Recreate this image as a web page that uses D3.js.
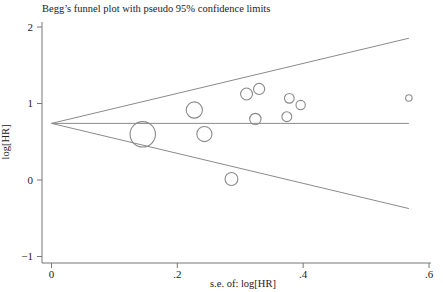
<!DOCTYPE html>
<html>
<head>
<meta charset="utf-8">
<script src="https://cdn.jsdelivr.net/npm/d3@7"></script>
<style>
  body { margin: 0; background: #fff; }
  text { font-family: "Liberation Serif", "DejaVu Serif", serif; fill: #222; }
</style>
</head>
<body>
<svg id="chart"></svg>
<script>
// study estimates
const studySE = [0.145, 0.227, 0.243, 0.286, 0.310, 0.330, 0.324, 0.378, 0.374, 0.396, 0.568];
const studyLogHR = [0.597, 0.915, 0.601, 0.013, 1.124, 1.19, 0.797, 1.068, 0.827, 0.98, 1.072];
const pooledLogHR = 0.74;
const xTicks = [0, 0.2, 0.4, 0.6];
const xTickLabels = ['0', '.2', '.4', '.6'];
const yTicks = [-1, 0, 1, 2];

const width = 443, height = 292;
const svg = d3.select('#chart').attr('width', width).attr('height', height);

const x = d3.scaleLinear().domain([0, 0.6]).range([51.5, 429]);
const y = d3.scaleLinear().domain([-1, 2]).range([256.5, 27]);

const GRAY = '#8a8a8a';
const AXIS = '#777';

// axes
const xAxis = svg.append('g').attr('transform', 'translate(0,263)');
xAxis.append('line').attr('x1', 42).attr('x2', 431).attr('stroke', AXIS);
xAxis.selectAll('.tick')
  .data(xTicks)
  .enter()
  .append('g')
  .attr('transform', d => `translate(${x(d)},0)`)
  .each(function (d, i) {
    const g = d3.select(this);
    g.append('line').attr('y2', 5).attr('stroke', AXIS);
    g.append('text').attr('y', 15).attr('text-anchor', 'middle')
      .style('font-size', '11px').text(xTickLabels[i]);
  });

const yAxis = svg.append('g').attr('transform', 'translate(42,0)');
yAxis.append('line').attr('y1', 22).attr('y2', 263).attr('stroke', AXIS);
yAxis.selectAll('.tick')
  .data(yTicks)
  .enter()
  .append('g')
  .attr('transform', d => `translate(0,${y(d)})`)
  .each(function (d) {
    const g = d3.select(this);
    g.append('line').attr('x2', -5).attr('stroke', AXIS);
    g.append('text').attr('x', -9).attr('dy', '0.35em').attr('text-anchor', 'end')
      .style('font-size', '11px').text(d < 0 ? '\u2212' + Math.abs(d) : d);
  });

// funnel: pooled line and pseudo 95% limits
const seMax = d3.max(studySE);
const line = d3.line().x(d => x(d[0])).y(d => y(d[1]));
svg.append('path')
  .attr('d', line([[0, pooledLogHR], [seMax, pooledLogHR]]))
  .attr('stroke', GRAY).attr('fill', 'none');
svg.append('path')
  .attr('d', line([[0, pooledLogHR], [seMax, pooledLogHR + 1.96 * seMax]]))
  .attr('stroke', GRAY).attr('fill', 'none');
svg.append('path')
  .attr('d', line([[0, pooledLogHR], [seMax, pooledLogHR - 1.96 * seMax]]))
  .attr('stroke', GRAY).attr('fill', 'none');

// markers sized by inverse-variance weight
const weights = studySE.map(s => 1 / (s * s));
const r = d3.scaleSqrt().domain([0, d3.max(weights)]).range([0, 12.7]);

svg.selectAll('.study')
  .data(studySE)
  .enter()
  .append('circle')
  .attr('class', 'study')
  .attr('cx', d => x(d))
  .attr('cy', (d, i) => y(studyLogHR[i]))
  .attr('r', (d, i) => r(weights[i]))
  .attr('fill', 'none')
  .attr('stroke', GRAY)
  .attr('stroke-width', 1.1);

// titles
svg.append('text')
  .attr('x', 42).attr('y', 12)
  .style('font-size', '10.5px')
  .text('Begg\u2019s funnel plot with pseudo 95% confidence limits');

svg.append('text')
  .attr('x', 243).attr('y', 287)
  .attr('text-anchor', 'middle')
  .style('font-size', '10.5px')
  .text('s.e. of: log[HR]');

svg.append('text')
  .attr('transform', 'translate(9,142) rotate(-90)')
  .attr('text-anchor', 'middle')
  .style('font-size', '10.5px')
  .text('log[HR]');
</script>
</body>
</html>
